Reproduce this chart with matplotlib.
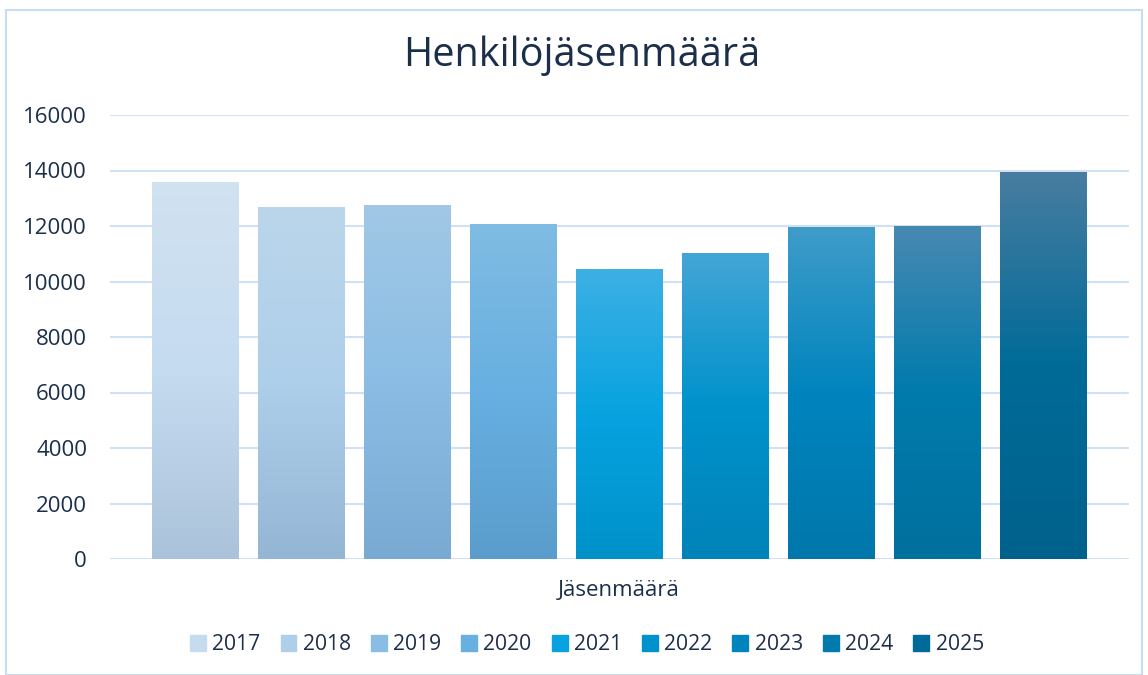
import numpy as np
import matplotlib
matplotlib.use("Agg")
import matplotlib.pyplot as plt
from matplotlib.colors import to_rgb, LinearSegmentedColormap
from matplotlib.patches import Rectangle

plt.rcParams['font.family'] = ['Open Sans', 'DejaVu Sans']

# data
years = ['2017', '2018', '2019', '2020', '2021', '2022', '2023', '2024', '2025']
members = [13600, 12700, 12750, 12080, 10450, 11030, 11960, 12000, 13950]
category = 'Jäsenmäärä'
title = 'Henkilöjäsenmäärä'

# top / middle / bottom colours of each bar's gradient
top_cols = ['#D1E2F1', '#BBD6EB', '#A1C8E6', '#80BCE3', '#3DB0E4', '#44A6D6', '#3F9CC9', '#4789B2', '#487DA0']
mid_cols = ['#C5DBF0', '#AECFEA', '#8BBDE4', '#67B0E1', '#07A3E0', '#0092CC', '#0084BE', '#007BAC', '#006B98']
bot_cols = ['#ABC3DA', '#94B6D5', '#78AAD3', '#5A9DCC', '#0091C9', '#0083B8', '#0077AB', '#00709E', '#00618C']

text_col = '#1B2E4A'
grid_col = '#D0E1F3'

fig = plt.figure(figsize=(11.48, 6.75), dpi=100)
ax = fig.add_axes([110 / 1148, 1 - 559 / 675, 1019 / 1148, 444 / 675])

x = np.arange(len(years))
bars = ax.bar(x, members, width=0.82, color='none', zorder=3)

for bar, ct, cm, cb in zip(bars, top_cols, mid_cols, bot_cols):
    cmap = LinearSegmentedColormap.from_list('g', [to_rgb(cb), to_rgb(cm), to_rgb(ct)])
    grad = np.linspace(0, 1, 256).reshape(-1, 1)
    bx, by = bar.get_x(), bar.get_y()
    bw, bh = bar.get_width(), bar.get_height()
    im = ax.imshow(grad, cmap=cmap, origin='lower', aspect='auto',
                   extent=(bx, bx + bw, by, by + bh), zorder=3)
    im.set_clip_path(bar)

ax.set_xlim(-0.807, 8.807)
ax.set_ylim(0, 16000)
ax.set_yticks(np.arange(0, 16001, 2000))
ax.yaxis.grid(True, color=grid_col, linewidth=1.5, zorder=0)
ax.set_axisbelow(True)
for s in ax.spines.values():
    s.set_visible(False)
ax.set_xticks([])
ax.tick_params(axis='y', length=0, pad=16.5, labelsize=16, labelcolor=text_col)

fig.text(619 / 1148, 1 - 590 / 675, category, ha='center', va='center',
         fontsize=16, color=text_col)
fig.text(582 / 1148, 1 - 56 / 675, title, ha='center', va='center',
         fontsize=28.5, color=text_col)

handles = [Rectangle((0, 0), 1, 1, color=c) for c in mid_cols]
fig.legend(handles, years, loc='center', bbox_to_anchor=(587 / 1148, 1 - 645 / 675),
           ncol=len(years), frameon=False, fontsize=15.2, labelcolor=text_col,
           handlelength=0.75, handleheight=0.75, handletextpad=0.3, columnspacing=0.95)

# outer chart border
fig.add_artist(Rectangle((6 / 1148, 0), 1136 / 1148, 1 - 10 / 675,
                         transform=fig.transFigure, fill=False,
                         edgecolor='#C9DDF0', linewidth=1.5))

fig.savefig('out.png', dpi=100)
